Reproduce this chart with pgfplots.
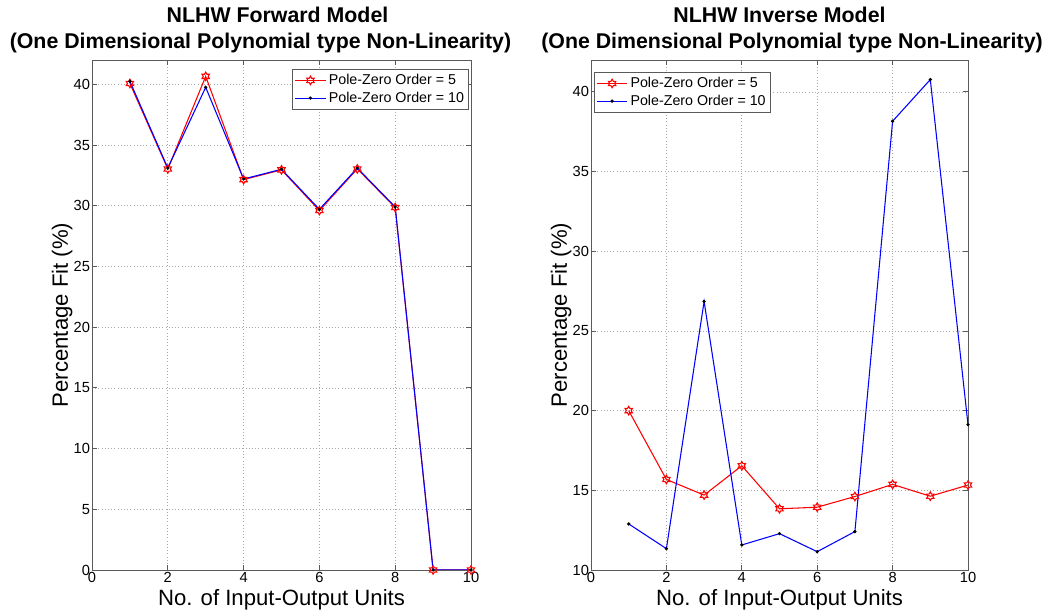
\documentclass[border=0pt]{standalone}
\usepackage{pgfplots}
\pgfplotsset{compat=1.18}
\usepackage{fontspec}
\setmainfont{Liberation Sans}
\pgfdeclareplotmark{hexagram}{%
  \pgfpathmoveto{\pgfqpointpolar{90}{\pgfplotmarksize}}%
  \pgfpathlineto{\pgfqpointpolar{120}{0.577\pgfplotmarksize}}%
  \pgfpathlineto{\pgfqpointpolar{150}{\pgfplotmarksize}}%
  \pgfpathlineto{\pgfqpointpolar{180}{0.577\pgfplotmarksize}}%
  \pgfpathlineto{\pgfqpointpolar{210}{\pgfplotmarksize}}%
  \pgfpathlineto{\pgfqpointpolar{240}{0.577\pgfplotmarksize}}%
  \pgfpathlineto{\pgfqpointpolar{270}{\pgfplotmarksize}}%
  \pgfpathlineto{\pgfqpointpolar{300}{0.577\pgfplotmarksize}}%
  \pgfpathlineto{\pgfqpointpolar{330}{\pgfplotmarksize}}%
  \pgfpathlineto{\pgfqpointpolar{0}{0.577\pgfplotmarksize}}%
  \pgfpathlineto{\pgfqpointpolar{30}{\pgfplotmarksize}}%
  \pgfpathlineto{\pgfqpointpolar{60}{0.577\pgfplotmarksize}}%
  \pgfpathclose
  \pgfusepathqstroke}
\definecolor{axgray}{RGB}{90,90,90}
\pgfplotsset{
  mystyle/.style={
    scale only axis,
    width=284.25pt, height=382.5pt,
    xmin=0, xmax=10, ymax=42,
    xtick={0,2,...,10},
    axis line style={axgray, line width=0.6pt},
    tick style={axgray, line width=0.6pt},
    major tick length=4pt,
    tick align=inside,
    xtick pos=both, ytick pos=both,
    grid=major,
    major grid style={gray!70, dotted, line width=0.5pt},
    tick label style={font=\fontsize{11}{12}\selectfont},
    /pgf/number format/assume math mode=true,
    xticklabel style={yshift=2pt},
    yticklabel style={xshift=2pt},
    title style={font=\bfseries\fontsize{16}{19.5}\selectfont, align=center, yshift=-4.5pt},
    xlabel={No. of Input-Output Units},
    ylabel={Percentage Fit (\%)},
    label style={font=\fontsize{16.6}{18}\selectfont},
    xlabel style={yshift=1.5pt},
    ylabel style={yshift=-6pt},
    legend style={font=\fontsize{10.7}{12}\selectfont, draw=axgray, line width=0.6pt, inner sep=1.5pt, row sep=0pt},
    legend cell align=left,
    legend image code/.code={%
      \draw[mark repeat=2,mark phase=2,#1] plot coordinates {(0cm,0cm) (0.4cm,0cm) (0.8cm,0cm)};},
  },
  redser/.style={red, line width=0.8pt, mark=hexagram, mark size=3.2pt, mark options={line width=0.8pt}},
  blueser/.style={blue, line width=0.8pt, mark=*, mark size=0.8pt, mark options={black}},
}
\begin{document}
\begin{tikzpicture}[x=1pt,y=1pt]
\useasboundingbox (0,0) rectangle (787.5,459.75);
\begin{axis}[mystyle, at={(69pt,32.25pt)}, anchor=south west,
  ymin=0, ytick={0,5,...,40},
  title={\hspace*{-6pt}NLHW Forward Model\\\hspace*{-31.5pt}(One Dimensional Polynomial type Non-Linearity)},
  legend style={at={(rel axis cs:0.995,0.982)}, anchor=north east}]
\addplot[redser] coordinates {(1,40.07) (2,33.03) (3,40.65) (4,32.15) (5,32.95) (6,29.6) (7,33.03) (8,29.85) (9,0) (10,0)};
\addplot[blueser] coordinates {(1,40.24) (2,33.1) (3,39.75) (4,32.2) (5,33.0) (6,29.7) (7,33.1) (8,29.9) (9,0) (10,0)};
\legend{Pole-Zero Order = 5, Pole-Zero Order = 10}
\end{axis}
\begin{axis}[mystyle, at={(443.25pt,32.25pt)}, anchor=south west, width=282.75pt,
  ymin=10, ytick={10,15,...,40},
  title={NLHW Inverse Model\\\hspace*{18.8pt}(One Dimensional Polynomial type Non-Linearity)},
  legend style={at={(rel axis cs:0.008,0.976)}, anchor=north west}]
\addplot[redser] coordinates {(1,20.0) (2,15.68) (3,14.7) (4,16.54) (5,13.84) (6,13.94) (7,14.61) (8,15.37) (9,14.63) (10,15.33)};
\addplot[blueser] coordinates {(1,12.89) (2,11.34) (3,26.85) (4,11.57) (5,12.28) (6,11.15) (7,12.41) (8,38.16) (9,40.77) (10,19.12)};
\legend{Pole-Zero Order = 5, Pole-Zero Order = 10}
\end{axis}
\end{tikzpicture}
\end{document}
